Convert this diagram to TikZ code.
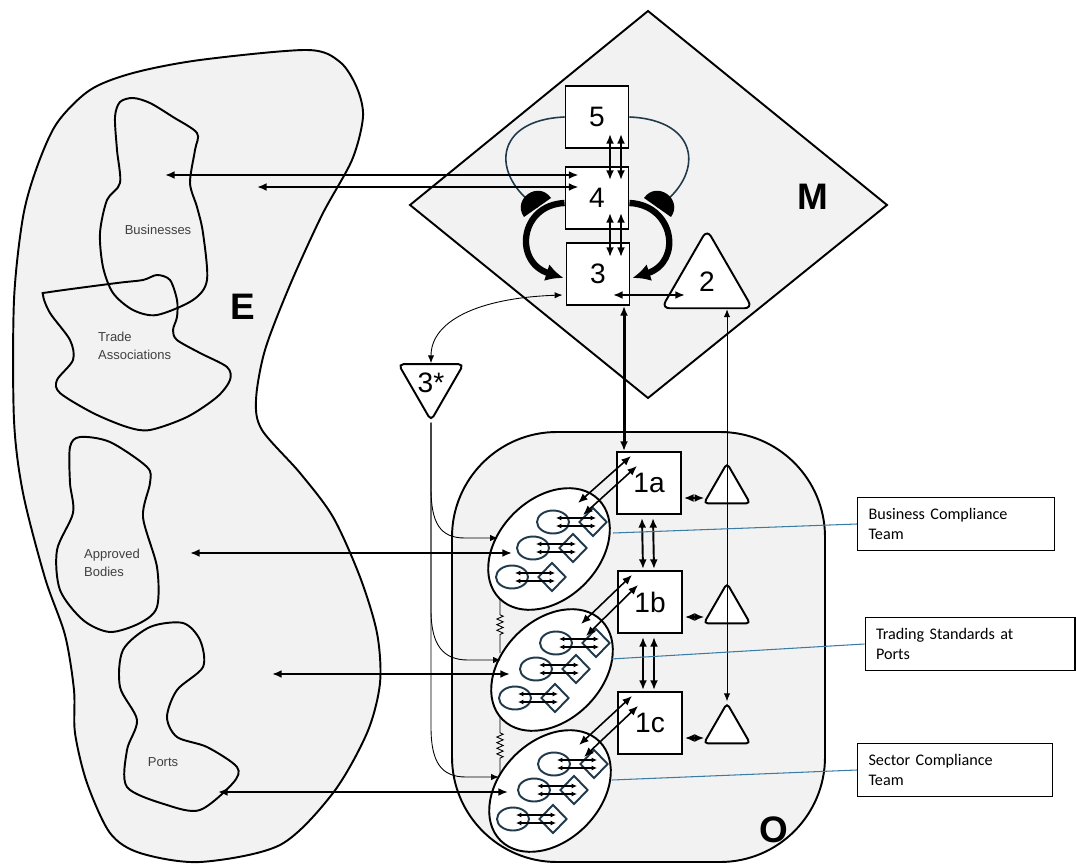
\documentclass[tikz,border=0pt]{standalone}
\usepackage{fontspec}
\setmainfont{Liberation Sans}
\newfontfamily\calfont{Carlito}
\usepackage{tikz}
\usetikzlibrary{positioning,arrows.meta,calc,shapes.geometric,decorations.pathmorphing}
\definecolor{bggray}{HTML}{F2F2F2}
\definecolor{slate}{HTML}{203A4C}
\definecolor{steel}{HTML}{3A7CA5}
\definecolor{blobtext}{HTML}{404040}

\tikzset{
  numfont/.style={font=\fontsize{16}{16}\selectfont},
  sysbox/.style={draw, fill=white, line width=1.1pt, minimum width=1.26cm,
    minimum height=1.24cm, inner sep=0pt, numfont},
  tri/.style={draw, fill=white, line width=1.1pt, regular polygon,
    regular polygon sides=3, inner sep=0pt, rounded corners=3pt, numfont},
  optell/.style={draw, fill=white, ellipse, line width=1.1pt,
    minimum width=2.8cm, minimum height=2cm, rotate=45},
  subell/.style={draw=slate, ellipse, line width=1.1pt,
    minimum width=0.64cm, minimum height=0.46cm, inner sep=0pt},
  subdia/.style={draw=slate, diamond, line width=1.1pt,
    minimum width=0.56cm, minimum height=0.58cm, inner sep=0pt},
  lblbox/.style={draw, line width=0.6pt, fill=white, minimum height=1.06cm,
    inner xsep=0.22cm, align=left, font=\calfont\fontsize{9.2}{11}\selectfont},
  dbl/.style={{Latex[length=5.5pt,width=4.5pt]}-{Latex[length=5.5pt,width=4.5pt]},
    line width=1.1pt},
  dblthin/.style={{Latex[length=4.5pt,width=3.6pt]}-{Latex[length=4.5pt,width=3.6pt]},
    line width=0.5pt},
  mini/.style={{Latex[length=3pt,width=2.8pt]}-{Latex[length=3pt,width=2.8pt]},
    line width=0.6pt},
  thinarr/.style={-{Latex[length=4.5pt,width=3.6pt]}, line width=0.5pt},
  bigbend/.style={-{Latex[length=10pt,width=10pt]}, line width=3.6pt},
  loopline/.style={draw=slate, line width=0.9pt},
  spring/.style={line width=0.5pt, decorate, decoration={zigzag,
    amplitude=1.8pt, segment length=3.2pt, pre length=9pt, post length=9pt}},
  bloblbl/.style={font=\fontsize{7.4}{10.5}\selectfont, text=blobtext, align=left},
  region/.style={font=\bfseries\fontsize{21}{21}\selectfont},
}

\begin{document}
\begin{tikzpicture}[x=0.02cm, y=-0.02cm]
  \useasboundingbox (0,0) rectangle (1077,864);

  % Environment
  \draw[fill=bggray, line width=1.1pt] plot[smooth cycle] coordinates {
    (307,50) (340,62) (357,88) (363,117) (352,160) (322,215) (290,285)
    (265,350) (256,400) (262,430) (300,473) (333,517) (360,577) (377,633)
    (380,683) (367,733) (333,793) (280,845) (200,862) (140,853) (110,833)
    (87,783) (75,733) (74,690) (65,635) (45,578) (23,493) (14,420)
    (14,300) (23,217) (37,167) (57,123) (90,90) (133,73) (200,60)};
  \draw[line width=1.1pt] plot[smooth cycle] coordinates {
    (120,102) (133,98) (150,103) (173,117) (197,133) (195,150) (190,183)
    (197,207) (203,233) (207,280) (193,300) (157,315) (133,310) (113,293)
    (103,267) (100,233) (107,200) (120,183) (117,150) (115,117)};
  \draw[line width=1.1pt] plot[smooth cycle] coordinates {
    (43,295) (50,292) (117,283) (143,280) (157,275) (170,280) (177,300)
    (177,317) (173,330) (177,340) (200,353) (227,367) (230,380) (217,397)
    (187,417) (150,430) (127,427) (93,413) (60,393) (57,380) (73,360)
    (70,340) (50,313)};
  \draw[line width=1.1pt] plot[smooth cycle] coordinates {
    (80,437) (110,442) (147,467) (150,483) (143,517) (157,567) (157,607)
    (140,623) (110,632) (83,620) (60,590) (57,550) (73,513) (70,483)
    (70,447)};
  \draw[line width=1.1pt] plot[smooth cycle] coordinates {
    (183,623) (200,640) (203,667) (177,690) (167,717) (177,737) (207,747)
    (237,767) (233,783) (200,810) (167,805) (127,787) (127,750) (137,720)
    (120,687) (123,650) (150,627)};
  \node[bloblbl] (lbiz) at (158,230) {Businesses};
  \node[bloblbl, anchor=west] (ltrade) at (92,346) {Trade\\Associations};
  \node[bloblbl, anchor=west] (lappr) at (78,563) {Approved\\Bodies};
  \node[bloblbl] (lports) at (163,762) {Ports};
  \node[region] (lE) at (243,307) {E};

  % Management and operations
  \draw[fill=bggray, line width=1.1pt] (648,11) -- (887,205) -- (648,398) -- (410,205) -- cycle;
  \draw[fill=bggray, line width=1.1pt, rounded corners=2.1cm] (452,432) rectangle (825,862);
  \node[region] (lM) at (813,197) {M};

  % Systems 5, 4, 3, 2, 3*
  \node[sysbox] (b5) at (597,117) {5};
  \node[sysbox] (b4) at (597,198) {4};
  \node[sysbox] (b3) at (598,274) {3};
  \node[tri, minimum size=2.1cm, rounded corners=4.5pt] (t2) at (707,282) {2};
  \node[tri, minimum size=1.49cm, rounded corners=2.8pt, shape border rotate=180] (t3s) at (431,383) {3*};

  \coordinate (capL) at (537.5,207.5);
  \coordinate (capR) at (657.5,207.5);
  \draw[loopline] (b5.west) .. controls +(-71,3) and (490,175) .. (capL);
  \draw[loopline] (b5.east) .. controls +(71,3) and (705,175) .. (capR);
  \fill[shift={(capL)}] (-13.5,9.5) .. controls (-26.1,-8.5) and (0.9,-27.5) .. (13.5,-9.5) -- cycle;
  \fill[shift={(capR)}] (13.5,9.5) .. controls (26.1,-8.5) and (-0.9,-27.5) .. (-13.5,-9.5) -- cycle;

  \draw[bigbend] ($(b4.west)+(0,5)$) .. controls +(-45,2) and +(-50,-16) .. ($(b3.west)+(-2,4)$);
  \draw[bigbend] ($(b4.east)+(0,5)$) .. controls +(45,2) and +(50,-16) .. ($(b3.east)+(2,4)$);

  \foreach \dx in {13,24} {
    \draw[dbl] ($(b5.south)+(\dx,-15)$) -- ($(b4.north)+(\dx,14)$);
    \draw[dbl] ($(b4.south)+(\dx,-17)$) -- ($(b3.north)+(\dx-1,15)$);
  }

  \coordinate (eBiz) at (165,175);
  \coordinate (eEnv) at (257,187);
  \draw[dbl] (eBiz) -- ($(b4.west)+(14,-23)$);
  \draw[dbl] (eEnv) -- ($(b4.west)+(14,-11)$);

  \coordinate (h32) at ($(b3.center)+(15,21)$);
  \draw[dbl] (h32) -- ($(h32 -| t2.center)+(-22,0)$);
  \draw[dblthin] ($(b3.west)+(-3,21)$) .. controls +(-85,3) and +(0,-42) .. (t3s.north);

  % Operations
  \foreach \n/\cx/\cy in {a/549/549, b/552/670, c/550/791} {
    \node[optell] (ell\n) at (\cx,\cy) {};
    \foreach \r/\dx/\dy in {1/4/-27, 2/-16/-1, 3/-37/28} {
      \node[subell] (se\n\r) at ($(ell\n)+(\dx,\dy)$) {};
      \node[subdia] (sd\n\r) at ($(ell\n)+(\dx+40,\dy)$) {};
      \draw[mini] ($(se\n\r)+(3,-4)$) -- ($(sd\n\r)+(3,-4)$);
      \draw[mini] ($(se\n\r)+(3,4)$) -- ($(sd\n\r)+(3,4)$);
    }
  }
  \draw[spring] ($(ella)+(-49,50)$) -- ($(ellb)+(-52,-17)$);
  \draw[spring] ($(ellb)+(-52,47)$) -- ($(ellc)+(-50,-16)$);

  \node[sysbox, minimum width=1.28cm] (b1a) at (649,483) {1a};
  \node[sysbox, minimum width=1.28cm] (b1b) at (650,602) {1b};
  \node[sysbox, minimum width=1.28cm] (b1c) at (650,723) {1c};
  \node[tri, minimum size=1.07cm, rounded corners=2.3pt] (t1a) at (727,490) {};
  \node[tri, minimum size=1.07cm, rounded corners=2.3pt] (t1b) at (727,610) {};
  \node[tri, minimum size=1.07cm, rounded corners=2.3pt] (t1c) at (727,730) {};

  \foreach \n in {a,b,c} {
    \draw[dbl, line width=0.9pt] ($(b1\n.south west)+(15,-59)$) -- ($(ell\n)+(29,-46)$);
    \draw[dbl, line width=0.9pt] ($(b1\n.south west)+(21,-49)$) -- ($(ell\n)+(34,-34)$);
    \coordinate (h\n) at ($(b1\n.east)+(2,15)$);
    \draw[dbl, line width=0.9pt] (h\n) -- ($(h\n -| t1\n.corner 2)+(2,0)$);
  }
  \foreach \u/\l in {a/b, b/c} {
    \draw[dbl] ($(b1\u.south)+(-7,3)$) -- ($(b1\l.north)+(-7,-1)$);
    \draw[dbl] ($(b1\u.south)+(4,3)$) -- ($(b1\l.north)+(4,-1)$);
  }
  \draw[dbl, line width=1.7pt] ($(b1a.north)+(-25,0)$) coordinate (v31) -- (v31 |- b3.south);
  \draw[dblthin] (t1c.north) -- (t1c.north |- t2.south);

  % 3* audit channel
  \foreach \n/\dy in {a/-11, b/-10, c/-14} {
    \coordinate (in\n) at ($(ell\n)+(-51,\dy)$);
    \coordinate (k\n) at (t3s.south |- in\n);
    \draw[thinarr] (t3s.south) -- ($(k\n)+(0,-50)$) .. controls +(0,35) and +(-25,0)
      .. ($(in\n)+(-33,0)$) -- (in\n);
  }

  % Environment links
  \coordinate (eAppr) at (190,553);
  \coordinate (eMid) at (272,674);
  \coordinate (ePorts) at (218,792);
  \draw[dbl] (eAppr) -- ($(ella)+(-37,4)$);
  \draw[dbl] (eMid) -- ($(ellb)+(-42,4)$);
  \draw[dbl] (ePorts) -- ($(ellc)+(-42,1)$);

  % Labels
  \node[lblbox, text width=3.5cm] (lbl1) at (956,524) {Business Compliance\\Team};
  \node[lblbox, text width=3.76cm] (lbl2) at (970,644) {Trading Standards at\\Ports};
  \node[lblbox, text width=3.46cm] (lbl3) at (955,770) {Sector Compliance\\Team};
  \draw[steel, line width=0.6pt] ($(ella)+(64,-16)$) -- (lbl1.west);
  \draw[steel, line width=0.6pt] ($(ellb)+(59,-11)$) -- (lbl2.west);
  \draw[steel, line width=0.6pt] ($(ellc)+(62,-11)$) -- (lbl3.west);

  \node[region] (lO) at (774,830) {O};
\end{tikzpicture}
\end{document}
